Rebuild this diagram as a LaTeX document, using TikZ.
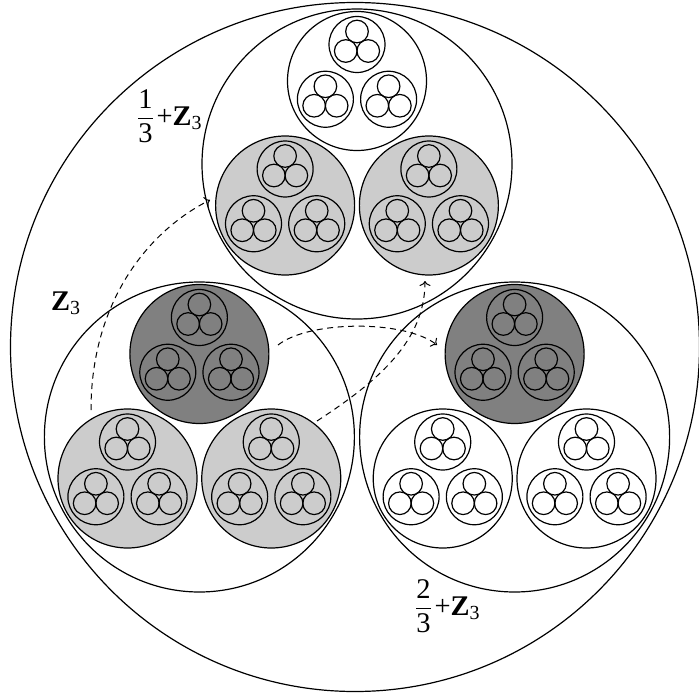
\documentclass[tikz,border=0pt]{standalone}
\usepackage{fontspec}
\setmainfont{Liberation Serif}
\usepackage{amsmath}
\usetikzlibrary{positioning, calc, arrows.meta}
\definecolor{darkdisc}{RGB}{128,128,128}
\definecolor{lightdisc}{RGB}{204,204,204}

\begin{document}
\begin{tikzpicture}[
    x=1pt, y=-1pt,
    disc/.style={circle, draw, line width=1.2pt, inner sep=0pt, minimum size=#1},
    link/.style={-{To[length=5pt, width=11pt]}, line width=1pt, dash pattern=on 6pt off 4.5pt},
    lbl/.style={inner sep=0pt, font=\fontsize{28.5}{32}\selectfont}
]
\useasboundingbox (0,0) rectangle (699,698);

\coordinate (O) at (357,346);
\node[disc=689pt] (whole) at (355,347) {};

% level 1: Z3, 1/3+Z3, 2/3+Z3 with the fills of their three children
\foreach \n/\ang/\fa/\fb/\fc in {a/-90/white/lightdisc/lightdisc,
                                  z/150/darkdisc/lightdisc/lightdisc,
                                  b/30/darkdisc/white/white} {
  \node[disc=310pt, fill=white] (\n) at ($(O)+(\ang:182)$) {};
  \foreach \m/\bng/\col in {t/-90/\fa, l/150/\fb, r/30/\fc} {
    \node[disc=139pt, fill=\col] (\n\m) at ($(\n)+(\bng:83)$) {};
    \foreach \p/\cng in {t/-90, l/150, r/30} {
      \node[disc=56pt] (\n\m\p) at ($(\n\m)+(\cng:36.5)$) {};
      \foreach \q/\dng in {t/-90, l/150, r/30}
        \node[disc=22.6pt] (\n\m\p\q) at ($(\n\m\p)+(\dng:13)$) {};
    }
  }
}

% labels
\node[lbl, anchor=west] (labela) at (137,116) {$\dfrac{\text{1}}{\text{3}}\mkern2mu\text{+}\mathbf{Z}_{\text{3}}$};
\node[lbl, anchor=base west] (labelz) at (51,310) {$\mathbf{Z}_{\text{3}}$};
\node[lbl, anchor=west] (labelb) at (415,606) {$\dfrac{\text{2}}{\text{3}}\mkern2mu\text{+}\mathbf{Z}_{\text{3}}$};

% dashed maps
\coordinate (s1) at (91,410);
\coordinate (e1) at (210,200);
\coordinate (s2) at (278,345);
\coordinate (e2) at (437,345);
\coordinate (s3) at (317,421);
\coordinate (e3) at (425,281);
\draw[link] (s1) .. controls (91,300) and (150,230) .. (e1);
\draw[link] (s2) .. controls (310,320) and (405,320) .. (e2);
\draw[link] (s3) .. controls (380,380) and (425,340) .. (e3);

\end{tikzpicture}
\end{document}
